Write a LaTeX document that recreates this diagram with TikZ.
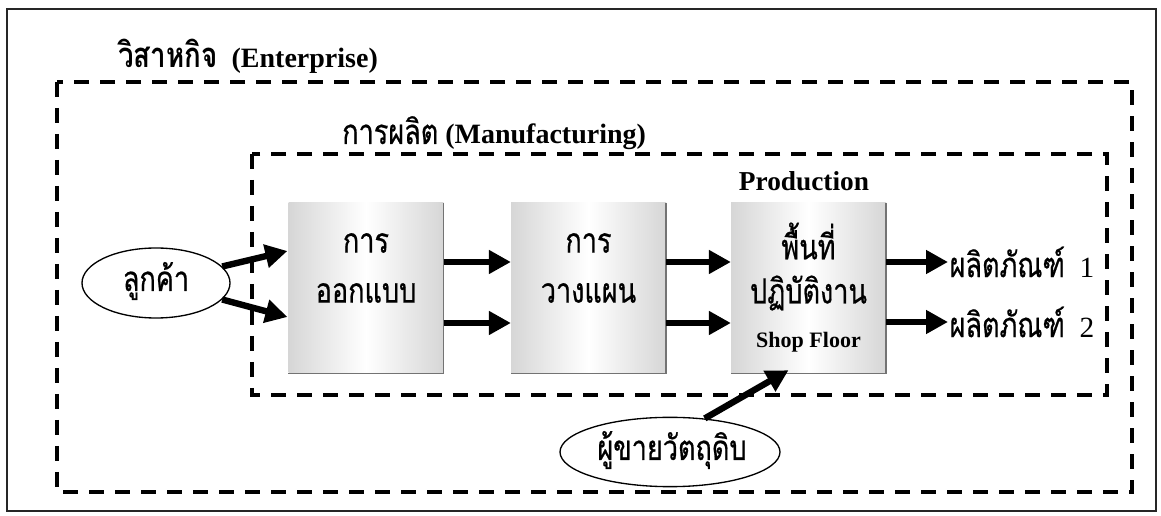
\documentclass[tikz,border=0pt]{standalone}
\usepackage{fontspec}
\setmainfont{Liberation Serif}
\newfontfamily\thai[Script=Thai,FakeStretch=0.78,FakeBold=0.6]{Loma}
\newfontfamily\thaib[Script=Thai,FakeStretch=0.8]{Loma}
\usetikzlibrary{arrows.meta,shapes.geometric,calc}
\begin{document}
\begin{tikzpicture}[x=0.75pt,y=-0.75pt,
  frame/.style={draw=black!85,line width=2pt},
  dashbox/.style={draw=black,line width=3pt,dash pattern=on 11pt off 8.5pt},
  procbox/.style={rectangle,minimum width=116pt,minimum height=127.5pt,inner sep=0pt,
     left color=black!16,right color=black!16,middle color=white,draw=none},
  oval/.style={ellipse,draw=black,line width=1pt,inner sep=0pt},
  fat/.style={line width=4.8pt,-{Triangle[length=16.5pt,width=17pt]}},
  title/.style={font=\fontsize{21}{25}\selectfont\bfseries,anchor=base west,inner sep=0pt},
  thaitxt/.style={font=\thai\fontsize{26}{30}\selectfont,inner sep=0pt},
  prodtxt/.style={font=\fontsize{22}{26}\selectfont,anchor=west,inner sep=1pt}]
\useasboundingbox (0,0) rectangle (1161,516);
\fill[white] (0,0) rectangle (1161,516);
% outer frame
\draw[frame] (7,9) rectangle (1156,511);
% enterprise
\draw[dashbox] (57,82) rectangle (1132,492);
\node[title] (ent) at (118,68) {{\thaib\fontsize{26}{30}\selectfont\bfseries วิสาหกิจ}\ \ (Enterprise)};
% manufacturing
\draw[dashbox] (252,154) rectangle (1107,395);
\node[title] (man) at (342,144) {{\thai\fontsize{26}{30}\selectfont\mdseries การผลิต} (Manufacturing)};
% process boxes
\node[procbox] (b1) at (366,288) {};
\node[procbox] (b2) at (588.5,288) {};
\node[procbox] (b3) at (808.5,288) {};
\foreach \b in {b1,b2,b3}{
  \draw[black!55,line width=1pt] (\b.north east) -- (\b.south east) -- (\b.south west);
}
\node[thaitxt] (t1a) at (366,243) {การ};
\node[thaitxt] (t1b) at (366,293) {ออกแบบ};
\node[thaitxt] (t2a) at (588.5,243) {การ};
\node[thaitxt] (t2b) at (588.5,293) {วางแผน};
\node[thaitxt] (t3a) at (808.5,241) {พื้นที่};
\node[thaitxt] (t3b) at (808.5,293) {ปฏิบัติงาน};
\node[font=\fontsize{16.5}{20}\selectfont\bfseries,inner sep=0pt] (t3c) at (808.5,342) {Shop Floor};
\node[font=\fontsize{20.5}{24}\selectfont\bfseries,inner sep=0pt] (prod) at (804,181) {Production};
% customer
\node[oval,minimum width=111pt,minimum height=52.5pt] (cust) at (156,283) {};
\node[thaitxt] (custt) at (156,281) {ลูกค้า};
% supplier
\node[oval,minimum width=165pt,minimum height=52pt] (sup) at (670,452) {};
\node[thaitxt] (supt) at (672,450) {ผู้ขายวัตถุดิบ};
% products
\node[prodtxt] (p1) at (948,262) {{\thai\fontsize{26}{30}\selectfont ผลิตภัณฑ์}\ \ 1};
\node[prodtxt] (p2) at (948,322) {{\thai\fontsize{26}{30}\selectfont ผลิตภัณฑ์}\ \ 2};
% arrows
\draw[fat] (cust.14) -- ($(b1.west)+(-1,-37)$);
\draw[fat] (cust.-14) -- ($(b1.west)+(-1,29)$);
\draw[fat] ($(b1.east)+(0,-26)$) -- ($(b2.west)+(0,-26)$);
\draw[fat] ($(b1.east)+(0,35)$) -- ($(b2.west)+(0,35)$);
\draw[fat] ($(b2.east)+(0,-26)$) -- ($(b3.west)+(0,-26)$);
\draw[fat] ($(b2.east)+(0,35)$) -- ($(b3.west)+(0,35)$);
\draw[fat] ($(b3.east)+(0,-26)$) -- (p1.west);
\draw[fat] ($(b3.east)+(0,34)$) -- (p2.west);
\draw[fat] (sup.44) -- ($(b3.south)+(-20,-3)$);
\end{tikzpicture}
\end{document}
